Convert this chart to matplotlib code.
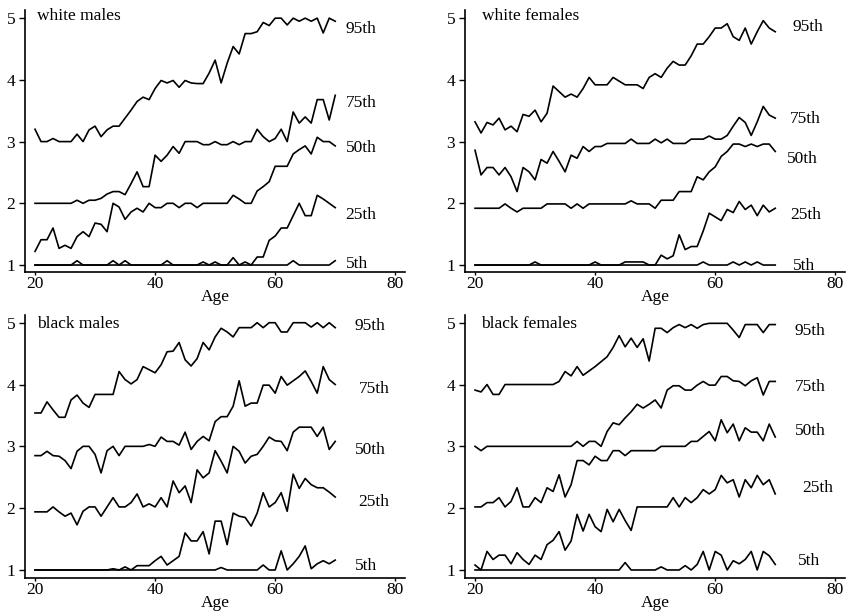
import matplotlib.pyplot as plt

plt.rcParams['font.family'] = ['Liberation Serif', 'DejaVu Serif']

ages = list(range(20, 71))

# white males
wm95 = [3.2, 3.0, 3.0, 3.05, 3.0, 3.0, 3.0, 3.12, 3.0, 3.19,
        3.25, 3.08, 3.19, 3.25, 3.25, 3.38, 3.51, 3.65, 3.72, 3.68,
        3.86, 3.99, 3.95, 3.99, 3.88, 3.99, 3.95, 3.94, 3.94, 4.11,
        4.32, 3.95, 4.27, 4.54, 4.42, 4.75, 4.75, 4.78, 4.93, 4.88,
        5.0, 5.0, 4.89, 5.0, 4.95, 5.0, 4.95, 5.0, 4.76, 5.0,
        4.95]
wm75 = [2.0, 2.0, 2.0, 2.0, 2.0, 2.0, 2.0, 2.05, 2.0, 2.05,
        2.05, 2.08, 2.15, 2.19, 2.19, 2.14, 2.32, 2.51, 2.27, 2.27,
        2.78, 2.68, 2.78, 2.92, 2.81, 3.0, 3.0, 3.0, 2.95, 2.95,
        3.0, 2.95, 2.95, 3.0, 2.95, 3.0, 3.0, 3.2, 3.08, 3.0,
        3.05, 3.2, 3.0, 3.48, 3.3, 3.4, 3.3, 3.68, 3.68, 3.35,
        3.75]
wm50 = [1.22, 1.41, 1.41, 1.6, 1.27, 1.32, 1.27, 1.46, 1.54, 1.46,
        1.68, 1.66, 1.54, 2.0, 1.94, 1.74, 1.86, 1.92, 1.86, 2.0,
        1.93, 1.93, 2.0, 2.0, 1.93, 2.0, 2.0, 1.93, 2.0, 2.0,
        2.0, 2.0, 2.0, 2.13, 2.07, 2.0, 2.0, 2.2, 2.27, 2.35,
        2.6, 2.6, 2.6, 2.8, 2.87, 2.93, 2.8, 3.07, 3.0, 3.0,
        2.93]
wm25 = [1.0, 1.0, 1.0, 1.0, 1.0, 1.0, 1.0, 1.0, 1.0, 1.0,
        1.0, 1.0, 1.0, 1.0, 1.0, 1.0, 1.0, 1.0, 1.0, 1.0,
        1.0, 1.0, 1.0, 1.0, 1.0, 1.0, 1.0, 1.0, 1.0, 1.0,
        1.0, 1.0, 1.0, 1.0, 1.0, 1.0, 1.0, 1.13, 1.13, 1.4,
        1.47, 1.6, 1.6, 1.8, 2.0, 1.8, 1.8, 2.13, 2.07, 2.0,
        1.93]
wm5 = [1.0, 1.0, 1.0, 1.0, 1.0, 1.0, 1.0, 1.07, 1.0, 1.0,
       1.0, 1.0, 1.0, 1.07, 1.0, 1.07, 1.0, 1.0, 1.0, 1.0,
       1.0, 1.0, 1.07, 1.0, 1.0, 1.0, 1.0, 1.0, 1.05, 1.0,
       1.05, 1.0, 1.0, 1.12, 1.0, 1.05, 1.0, 1.0, 1.0, 1.0,
       1.0, 1.0, 1.0, 1.07, 1.0, 1.0, 1.0, 1.0, 1.0, 1.0,
       1.07]

# white females
wf95 = [3.32, 3.14, 3.31, 3.27, 3.38, 3.19, 3.25, 3.16, 3.44, 3.41,
        3.51, 3.32, 3.46, 3.9, 3.81, 3.72, 3.77, 3.72, 3.86, 4.04,
        3.92, 3.92, 3.92, 4.04, 3.98, 3.92, 3.92, 3.92, 3.86, 4.04,
        4.1, 4.04, 4.19, 4.3, 4.24, 4.24, 4.39, 4.58, 4.58, 4.7,
        4.84, 4.84, 4.91, 4.7, 4.64, 4.84, 4.58, 4.78, 4.96, 4.84,
        4.78]
wf75 = [2.86, 2.46, 2.58, 2.58, 2.46, 2.58, 2.43, 2.19, 2.58, 2.51,
        2.38, 2.71, 2.65, 2.84, 2.68, 2.51, 2.78, 2.73, 2.92, 2.84,
        2.92, 2.92, 2.97, 2.97, 2.97, 2.97, 3.04, 2.97, 2.97, 2.97,
        3.04, 2.98, 3.04, 2.97, 2.97, 2.97, 3.04, 3.04, 3.04, 3.09,
        3.04, 3.04, 3.1, 3.25, 3.39, 3.31, 3.1, 3.32, 3.57, 3.43,
        3.38]
wf50 = [1.92, 1.92, 1.92, 1.92, 1.92, 1.99, 1.92, 1.86, 1.92, 1.92,
        1.92, 1.92, 1.99, 1.99, 1.99, 1.99, 1.92, 1.99, 1.92, 1.99,
        1.99, 1.99, 1.99, 1.99, 1.99, 1.99, 2.04, 1.99, 1.99, 1.99,
        1.92, 2.05, 2.05, 2.05, 2.19, 2.19, 2.19, 2.43, 2.38, 2.51,
        2.59, 2.76, 2.84, 2.96, 2.96, 2.92, 2.96, 2.92, 2.96, 2.96,
        2.84]
wf25 = [1.0, 1.0, 1.0, 1.0, 1.0, 1.0, 1.0, 1.0, 1.0, 1.0,
        1.0, 1.0, 1.0, 1.0, 1.0, 1.0, 1.0, 1.0, 1.0, 1.0,
        1.0, 1.0, 1.0, 1.0, 1.0, 1.05, 1.05, 1.05, 1.05, 1.0,
        1.0, 1.16, 1.1, 1.15, 1.49, 1.25, 1.3, 1.3, 1.55, 1.84,
        1.78, 1.72, 1.9, 1.85, 2.03, 1.9, 1.97, 1.8, 1.97, 1.86,
        1.92]
wf5 = [1.0, 1.0, 1.0, 1.0, 1.0, 1.0, 1.0, 1.0, 1.0, 1.0,
       1.05, 1.0, 1.0, 1.0, 1.0, 1.0, 1.0, 1.0, 1.0, 1.0,
       1.05, 1.0, 1.0, 1.0, 1.0, 1.0, 1.0, 1.0, 1.0, 1.0,
       1.0, 1.0, 1.0, 1.0, 1.0, 1.0, 1.0, 1.0, 1.05, 1.0,
       1.0, 1.0, 1.0, 1.05, 1.0, 1.05, 1.0, 1.05, 1.0, 1.0,
       1.0]

# black males
bm95 = [3.54, 3.54, 3.72, 3.59, 3.47, 3.47, 3.75, 3.83, 3.7, 3.63,
        3.84, 3.84, 3.84, 3.84, 4.21, 4.08, 4.01, 4.08, 4.29, 4.24,
        4.19, 4.32, 4.53, 4.54, 4.68, 4.4, 4.3, 4.42, 4.68, 4.56,
        4.77, 4.91, 4.85, 4.77, 4.92, 4.92, 4.92, 5.0, 4.92, 5.0,
        5.0, 4.85, 4.85, 5.0, 5.0, 5.0, 4.93, 5.0, 4.92, 5.0,
        4.92]
bm75 = [2.85, 2.85, 2.92, 2.85, 2.84, 2.77, 2.64, 2.92, 3.0, 3.0,
        2.87, 2.57, 2.93, 3.0, 2.85, 3.0, 3.0, 3.0, 3.0, 3.03,
        3.0, 3.15, 3.08, 3.08, 3.02, 3.23, 2.95, 3.08, 3.16, 3.09,
        3.4, 3.48, 3.48, 3.65, 4.06, 3.65, 3.7, 3.7, 3.99, 3.99,
        3.86, 4.13, 3.99, 4.06, 4.13, 4.22, 4.05, 3.86, 4.29, 4.08,
        4.0]
bm50 = [1.94, 1.94, 1.94, 2.02, 1.94, 1.87, 1.92, 1.73, 1.95, 2.02,
        2.02, 1.87, 2.02, 2.17, 2.02, 2.02, 2.09, 2.23, 2.02, 2.07,
        2.02, 2.17, 2.02, 2.44, 2.25, 2.36, 2.09, 2.62, 2.49, 2.57,
        2.93, 2.76, 2.57, 3.0, 2.92, 2.73, 2.84, 2.87, 3.0, 3.15,
        3.09, 3.08, 2.93, 3.23, 3.31, 3.31, 3.31, 3.16, 3.31, 2.95,
        3.08]
bm25 = [1.0, 1.0, 1.0, 1.0, 1.0, 1.0, 1.0, 1.0, 1.0, 1.0,
        1.0, 1.0, 1.0, 1.02, 1.0, 1.05, 1.0, 1.07, 1.07, 1.07,
        1.15, 1.22, 1.08, 1.15, 1.22, 1.6, 1.47, 1.47, 1.62, 1.26,
        1.79, 1.79, 1.41, 1.92, 1.87, 1.85, 1.71, 1.92, 2.25, 2.02,
        2.09, 2.25, 1.95, 2.55, 2.32, 2.48, 2.38, 2.33, 2.33, 2.26,
        2.18]
bm5 = [1.0, 1.0, 1.0, 1.0, 1.0, 1.0, 1.0, 1.0, 1.0, 1.0,
       1.0, 1.0, 1.0, 1.0, 1.0, 1.0, 1.0, 1.0, 1.0, 1.0,
       1.0, 1.0, 1.0, 1.0, 1.0, 1.0, 1.0, 1.0, 1.0, 1.0,
       1.0, 1.04, 1.0, 1.0, 1.0, 1.0, 1.0, 1.0, 1.08, 1.0,
       1.0, 1.31, 1.0, 1.1, 1.22, 1.39, 1.02, 1.1, 1.15, 1.1,
       1.16]

# black females
bf95 = [3.91, 3.88, 4.0, 3.84, 3.84, 4.0, 4.0, 4.0, 4.0, 4.0,
        4.0, 4.0, 4.0, 4.0, 4.05, 4.21, 4.14, 4.29, 4.15, 4.22,
        4.29, 4.37, 4.45, 4.6, 4.79, 4.61, 4.75, 4.6, 4.74, 4.38,
        4.91, 4.91, 4.84, 4.92, 4.97, 4.92, 4.97, 4.91, 4.97, 4.99,
        4.99, 4.99, 4.99, 4.88, 4.76, 4.97, 4.97, 4.97, 4.84, 4.97,
        4.97]
bf75 = [3.0, 2.93, 3.0, 3.0, 3.0, 3.0, 3.0, 3.0, 3.0, 3.0,
        3.0, 3.0, 3.0, 3.0, 3.0, 3.0, 3.0, 3.08, 3.0, 3.08,
        3.08, 3.0, 3.24, 3.38, 3.35, 3.46, 3.56, 3.68, 3.62, 3.68,
        3.75, 3.62, 3.91, 3.98, 3.98, 3.91, 3.91, 3.99, 4.05, 3.99,
        3.99, 4.13, 4.13, 4.06, 4.05, 3.98, 4.06, 4.11, 3.83, 4.05,
        4.05]
bf50 = [2.02, 2.02, 2.09, 2.09, 2.17, 2.02, 2.11, 2.33, 2.02, 2.02,
        2.17, 2.09, 2.33, 2.27, 2.54, 2.18, 2.38, 2.77, 2.77, 2.7,
        2.84, 2.77, 2.77, 2.93, 2.93, 2.85, 2.93, 2.93, 2.93, 2.93,
        2.93, 3.0, 3.0, 3.0, 3.0, 3.0, 3.08, 3.08, 3.16, 3.24,
        3.09, 3.43, 3.22, 3.36, 3.09, 3.3, 3.23, 3.23, 3.09, 3.36,
        3.15]
bf25 = [1.08, 1.0, 1.3, 1.17, 1.24, 1.24, 1.1, 1.28, 1.17, 1.09,
        1.24, 1.17, 1.41, 1.48, 1.62, 1.32, 1.47, 1.9, 1.63, 1.9,
        1.7, 1.62, 1.98, 1.78, 1.98, 1.8, 1.64, 2.02, 2.02, 2.02,
        2.02, 2.02, 2.02, 2.17, 2.02, 2.17, 2.09, 2.17, 2.3, 2.23,
        2.3, 2.53, 2.41, 2.46, 2.18, 2.46, 2.33, 2.53, 2.38, 2.46,
        2.23]
bf5 = [1.0, 1.0, 1.0, 1.0, 1.0, 1.0, 1.0, 1.0, 1.0, 1.0,
       1.0, 1.0, 1.0, 1.0, 1.0, 1.0, 1.0, 1.0, 1.0, 1.0,
       1.0, 1.0, 1.0, 1.0, 1.0, 1.12, 1.0, 1.0, 1.0, 1.0,
       1.0, 1.05, 1.0, 1.0, 1.0, 1.07, 1.0, 1.09, 1.3, 1.0,
       1.3, 1.24, 1.0, 1.15, 1.1, 1.17, 1.3, 1.0, 1.3, 1.23,
       1.09]

pct_labels = ["95th", "75th", "50th", "25th", "5th"]
titles = ["white males", "white females", "black males", "black females"]
series = [[wm95, wm75, wm50, wm25, wm5],
          [wf95, wf75, wf50, wf25, wf5],
          [bm95, bm75, bm50, bm25, bm5],
          [bf95, bf75, bf50, bf25, bf5]]

# label placement (age, value) for each percentile, per panel
label_xy = [
    [(74.3, 4.82), (74.3, 3.62), (74.3, 2.89), (74.3, 1.81), (73.7, 1.02)],
    [(75.5, 4.85), (75.0, 3.37), (74.5, 2.72), (75.1, 1.81), (74.8, 0.99)],
    [(75.8, 4.95), (76.5, 3.93), (75.8, 2.94), (76.5, 2.10), (75.1, 1.07)],
    [(75.8, 4.87), (75.8, 3.96), (75.8, 3.25), (77.0, 2.33), (75.7, 1.15)],
]
title_xy = [(20.3, 5.04), (21.1, 5.04), (20.3, 4.98), (21.0, 4.98)]

boxes = [[0.0295, 0.557, 0.449, 0.427],
         [0.549, 0.557, 0.449, 0.427],
         [0.0295, 0.0586, 0.449, 0.4284],
         [0.549, 0.0586, 0.449, 0.4284]]
ylims = [(0.887, 5.135), (0.887, 5.135), (0.87, 5.125), (0.87, 5.125)]

fig = plt.figure(figsize=(8.47, 6.14), dpi=100)

for i in range(4):
    ax = fig.add_axes(boxes[i])
    for vals in series[i]:
        ax.plot(ages, vals, color='black', lw=1.2)
    for lab, (x, y) in zip(pct_labels, label_xy[i]):
        ax.text(x, y, lab, fontsize=12.5, ha='center', va='center')
    ax.text(title_xy[i][0], title_xy[i][1], titles[i], fontsize=12.5,
            ha='left', va='center')

    ax.set_xlim(18.33, 81.67)
    ax.set_ylim(*ylims[i])
    ax.set_xticks([20, 40, 60, 80])
    ax.set_yticks([1, 2, 3, 4, 5])
    ax.spines['top'].set_visible(False)
    ax.spines['right'].set_visible(False)
    ax.spines['left'].set_linewidth(1.2)
    ax.spines['bottom'].set_linewidth(1.2)
    ax.tick_params(axis='y', direction='out', length=4, width=1,
                   labelsize=12.5, pad=3)
    ax.tick_params(axis='x', direction='out', length=2, width=1,
                   labelsize=12.5, pad=1)
    ax.set_xlabel("Age", fontsize=12.5, labelpad=-2)
    ax.patch.set_alpha(0)

plt.savefig("out.png", dpi=100)
